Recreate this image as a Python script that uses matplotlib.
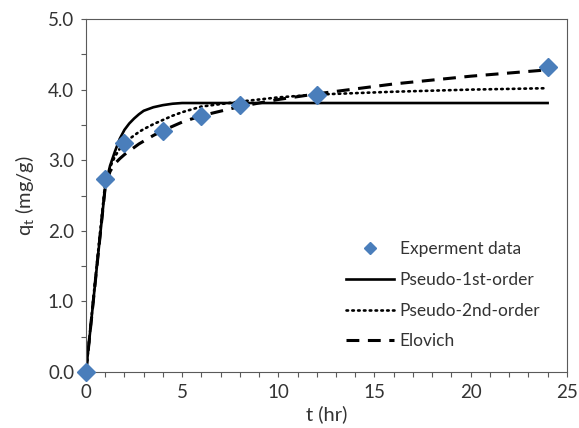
import matplotlib
import matplotlib.pyplot as plt
from matplotlib.ticker import MultipleLocator, FormatStrFormatter

matplotlib.use("Agg")

# experimental points
t_data = [0, 1, 2, 4, 6, 8, 12, 24]
q_data = [0.0, 2.73, 3.24, 3.42, 3.62, 3.78, 3.92, 4.32]

# model curves
t_fit = [0, 0.5, 1, 1.25, 1.5, 1.75, 2, 2.25, 2.5, 2.75, 3, 3.5, 4, 4.5,
         5, 6, 8, 10, 12, 16, 20, 24]
q_pfo = [0.0, 1.32, 2.62, 2.92, 3.12, 3.30, 3.43, 3.52, 3.59, 3.65, 3.70,
         3.75, 3.78, 3.80, 3.81, 3.81, 3.81, 3.81, 3.81, 3.81, 3.81, 3.81]
q_pso = [0.0, 1.36, 2.68, 2.90, 3.05, 3.16, 3.24, 3.30, 3.35, 3.40, 3.44,
         3.51, 3.57, 3.63, 3.68, 3.76, 3.83, 3.89, 3.93, 3.97, 4.00, 4.02]
q_elo = [0.0, 1.32, 2.62, 2.84, 2.95, 3.02, 3.08, 3.13, 3.18, 3.23, 3.27,
         3.35, 3.42, 3.48, 3.54, 3.63, 3.76, 3.86, 3.94, 4.08, 4.19, 4.28]

labels = ["Experment data", "Pseudo-1st-order", "Pseudo-2nd-order", "Elovich"]

plt.rcParams["font.family"] = ["Lato", "DejaVu Sans"]
text_col = "#333333"
axis_col = "#5a5a5a"

fig = plt.figure(figsize=(5.79, 4.28), dpi=100)
ax = fig.add_axes([0.1485, 0.1308, 0.8305, 0.8248])

pts, = ax.plot(t_data, q_data, linestyle="none", marker="D", markersize=8.8,
               color="#4a7ebb", zorder=5, clip_on=False)
l1, = ax.plot(t_fit, q_pfo, color="black", lw=1.9, solid_joinstyle="round")
l2, = ax.plot(t_fit, q_pso, color="black", lw=1.9, linestyle=(0, (0.6, 1.6)),
              dash_capstyle="round")
l3, = ax.plot(t_fit, q_elo, color="black", lw=2.2, linestyle=(0, (4.2, 2.8)))

ax.set_xlim(0, 25)
ax.set_ylim(0, 5)
ax.xaxis.set_major_locator(MultipleLocator(5))
ax.xaxis.set_minor_locator(MultipleLocator(1))
ax.yaxis.set_major_locator(MultipleLocator(1))
ax.yaxis.set_minor_locator(MultipleLocator(0.5))
ax.yaxis.set_major_formatter(FormatStrFormatter("%.1f"))
ax.tick_params(which="both", direction="out", length=3.5, width=0.8,
               color=axis_col, labelsize=13.5, labelcolor=text_col, pad=5)

for sp in ax.spines.values():
    sp.set_color(axis_col)
    sp.set_linewidth(0.8)

ax.set_xlabel("t (hr)", fontsize=14.5, color=text_col, labelpad=3)
ax.set_ylabel("q$_\\mathregular{t}$ (mg/g)", fontsize=14.5, color=text_col,
              labelpad=8)

leg = ax.legend([pts, l1, l2, l3], labels, loc="upper left",
                bbox_to_anchor=(0.508, 0.415), frameon=False, fontsize=12.5,
                handlelength=2.8, handletextpad=0.3, labelspacing=0.85,
                markerscale=0.65)
for txt in leg.get_texts():
    txt.set_color(text_col)

fig.savefig("out.png", dpi=100)
